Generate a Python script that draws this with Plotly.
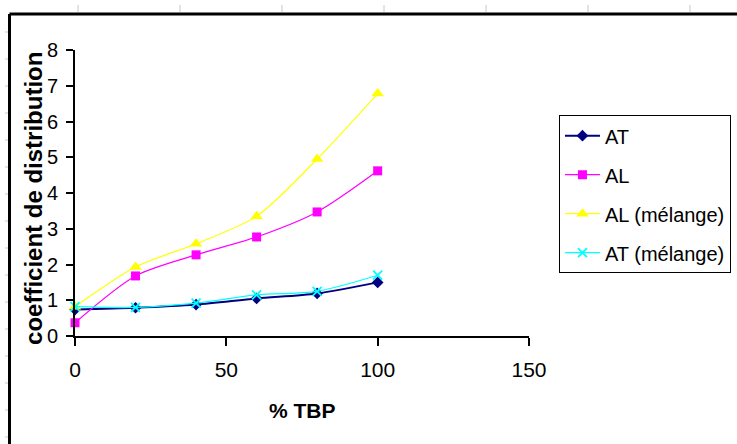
import plotly.graph_objects as go

tbp = [0, 20, 40, 60, 80, 100]
at = [0.74, 0.79, 0.88, 1.05, 1.19, 1.50]
al = [0.37, 1.68, 2.27, 2.77, 3.47, 4.62]
al_mel = [0.82, 1.93, 2.58, 3.35, 4.95, 6.78]
at_mel = [0.82, 0.80, 0.92, 1.15, 1.25, 1.70]

x_ticks = [0, 50, 100, 150]
y_ticks = [0, 1, 2, 3, 4, 5, 6, 7, 8]

FONT = "Liberation Sans, Arial, sans-serif"

fig = go.Figure()
series = [
    ("AT", at, "#000080", "diamond", 9, 2),
    ("AL", al, "#FF00FF", "square", 9, 1.2),
    ("AL (mélange)", al_mel, "#FFFF00", "triangle-up", 11, 1.2),
    ("AT (mélange)", at_mel, "#00FFFF", "x-thin-open", 9, 1.2),
]
for i, (name, ys, col, sym, sz, lw) in enumerate(series):
    marker = dict(symbol=sym, size=sz, color=col)
    if sym.endswith("open"):
        marker["line"] = dict(color=col, width=1.8)
    fig.add_trace(go.Scatter(
        x=tbp, y=ys, name=name, mode="lines+markers",
        line=dict(color=col, width=lw, shape="spline", smoothing=0.8),
        marker=marker, legendgroup=f"g{i}", cliponaxis=False,
    ))

fig.update_layout(
    width=737, height=444,
    margin=dict(l=75, r=208, t=50, b=108, autoexpand=False),
    paper_bgcolor="white", plot_bgcolor="white",
    font=dict(family=FONT, color="black"),
    showlegend=True,
    legend=dict(
        x=1.066, y=0.772, xanchor="left", yanchor="top",
        bordercolor="black", borderwidth=1, bgcolor="white",
        font=dict(size=20, family=FONT), tracegroupgap=10,
        itemwidth=35,
    ),
    xaxis=dict(
        range=[0, 150], tickvals=x_ticks, showgrid=False, zeroline=False,
        showline=True, linecolor="black", linewidth=2,
        ticks="outside", ticklen=8, tickwidth=2, tickcolor="black",
        tickfont=dict(size=21, family=FONT), ticklabelstandoff=6,
        automargin=False,
    ),
    yaxis=dict(
        range=[0, 8], tickvals=y_ticks, showgrid=False, zeroline=False,
        showline=True, linecolor="black", linewidth=2,
        ticks="outside", ticklen=7, tickwidth=2, tickcolor="black",
        tickfont=dict(size=20, family=FONT), ticklabelstandoff=4,
        automargin=False,
    ),
    annotations=[
        dict(text="<b>coefficient de distribution</b>", textangle=-90,
             xref="paper", yref="paper", x=-0.092, y=0.48,
             xanchor="center", yanchor="middle", showarrow=False,
             font=dict(size=24, family=FONT)),
        dict(text="<b>% TBP</b>", xref="paper", yref="paper",
             x=0.5, y=-0.262, xanchor="center", yanchor="middle",
             showarrow=False, font=dict(size=21, family=FONT)),
    ],
)

# page border lines
fig.add_shape(type="line", xref="paper", yref="paper",
              x0=(9.5 - 75) / 454, x1=(737 - 75) / 454,
              y0=(336 - 14) / 286, y1=(336 - 14) / 286,
              line=dict(color="black", width=3))
fig.add_shape(type="line", xref="paper", yref="paper",
              x0=(9.5 - 75) / 454, x1=(9.5 - 75) / 454,
              y0=(336 - 14) / 286, y1=(336 - 444) / 286,
              line=dict(color="black", width=3))
# ruler ticks (decorative)
for px in [78, 180, 282, 384, 486, 588, 690]:
    fig.add_shape(type="line", xref="paper", yref="paper",
                  x0=(px - 75) / 454, x1=(px - 75) / 454,
                  y0=(336 - 5) / 286, y1=(336 - 12) / 286,
                  line=dict(color="#c8c8c8", width=1))
for py in range(32, 444, 27):
    fig.add_shape(type="line", xref="paper", yref="paper",
                  x0=(5 - 75) / 454, x1=(8 - 75) / 454,
                  y0=(336 - py) / 286, y1=(336 - py) / 286,
                  line=dict(color="#c8c8c8", width=1))

fig.write_html("out.html")
